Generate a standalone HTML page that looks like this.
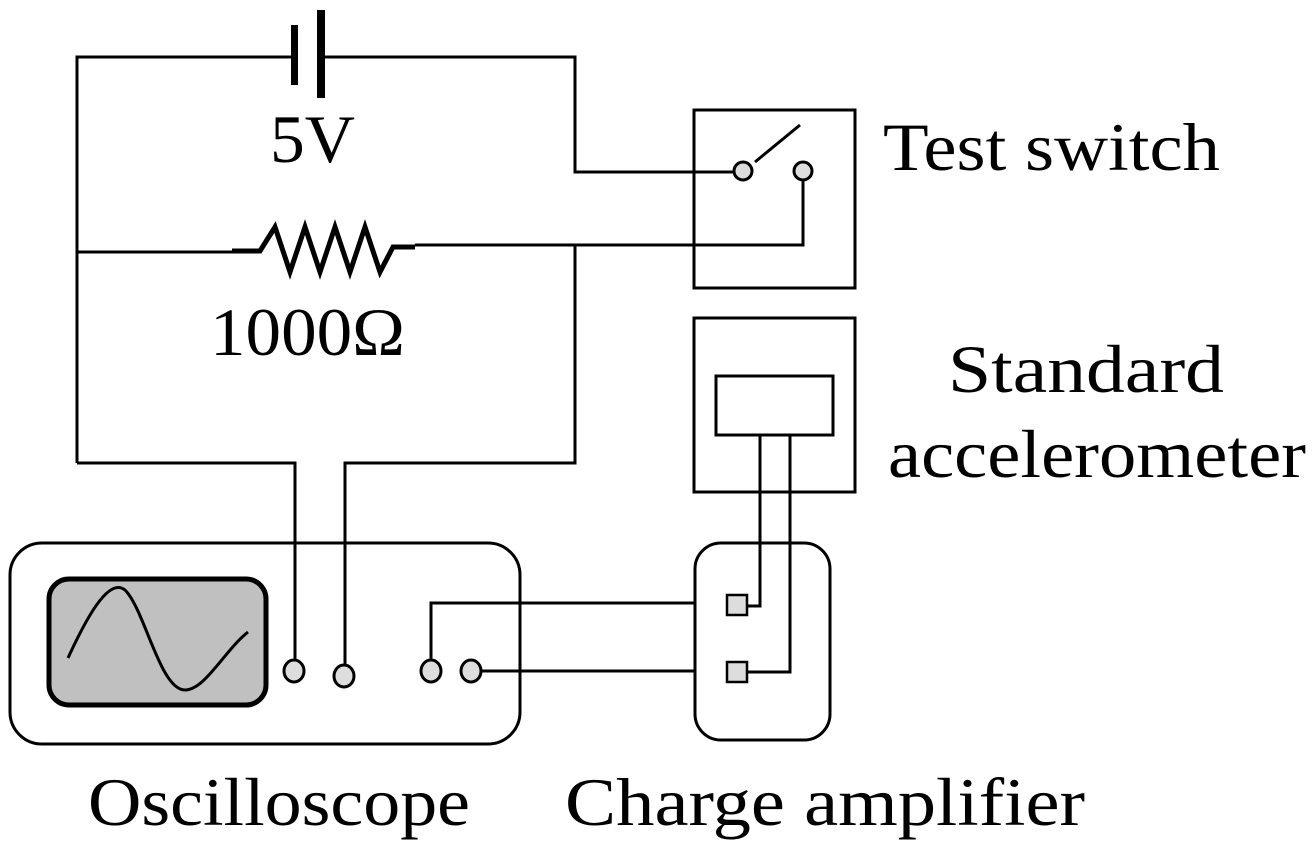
<!DOCTYPE html>
<html><head><style>body{margin:0;background:#fff}svg{display:block}</style></head><body>
<svg width="1316" height="852" viewBox="0 0 1316 852" xmlns="http://www.w3.org/2000/svg">
<g fill="none" stroke="#000" stroke-width="3">
<path d="M77 463V57H295M322 57H575V172H734"/>
<path d="M77 252H232M415 245H803V180"/>
<path d="M575 245V463H345V666M77 463H295V661"/>
<path d="M755 162L800 125"/>
<rect x="694" y="110" width="161" height="178"/>
<rect x="694" y="318" width="161" height="174"/>
<rect x="716" y="376" width="117" height="59"/>
<rect x="10" y="543" width="510" height="201" rx="32"/>
<rect x="695" y="543" width="135" height="197" rx="26"/>
<path d="M431 661V603H695M481 671H695"/>
<path d="M747 606H760V435M747 672H790V435"/>
<rect x="727" y="595" width="20" height="20" fill="#ddd" stroke-width="2.5"/>
<rect x="727" y="662" width="20" height="20" fill="#ddd" stroke-width="2.5"/>
<ellipse cx="743" cy="171" rx="9" ry="9" fill="#ddd"/>
<ellipse cx="803" cy="171" rx="9" ry="9" fill="#ddd"/>
<ellipse cx="294" cy="671" rx="10" ry="11" fill="#ddd"/>
<ellipse cx="344" cy="676" rx="10" ry="11" fill="#ddd"/>
<ellipse cx="431" cy="671" rx="10" ry="11" fill="#ddd"/>
<ellipse cx="471" cy="671" rx="10" ry="11" fill="#ddd"/>
<rect x="49" y="579" width="217" height="126" rx="20" fill="#c0c0c0" stroke-width="5"/>
<path d="M68 658C90 610 110 578 125 590C145 610 160 690 185 690C205 690 225 650 248 632"/>
<path d="M232 251H260L275 227L290 272L305 227L320 272L335 227L350 272L365 227L380 272L393 247H415" stroke-width="5"/>
</g>
<rect x="291" y="25" width="7" height="60" fill="#000"/>
<rect x="317" y="10" width="8" height="88" fill="#000"/>
<g style="font-family:'Liberation Serif',serif" font-size="68" fill="#000">
<text x="270" y="162" textLength="85" lengthAdjust="spacingAndGlyphs">5V</text>
<text x="210" y="355" textLength="195" lengthAdjust="spacingAndGlyphs">1000Ω</text>
<text x="883" y="170" textLength="337" lengthAdjust="spacingAndGlyphs">Test switch</text>
<text x="948" y="392" textLength="276" lengthAdjust="spacingAndGlyphs">Standard</text>
<text x="888" y="477" textLength="418" lengthAdjust="spacingAndGlyphs">accelerometer</text>
<text x="88" y="825" textLength="382" lengthAdjust="spacingAndGlyphs">Oscilloscope</text>
<text x="565" y="825" textLength="520" lengthAdjust="spacingAndGlyphs">Charge amplifier</text>
</g>
</svg>
</body></html>
